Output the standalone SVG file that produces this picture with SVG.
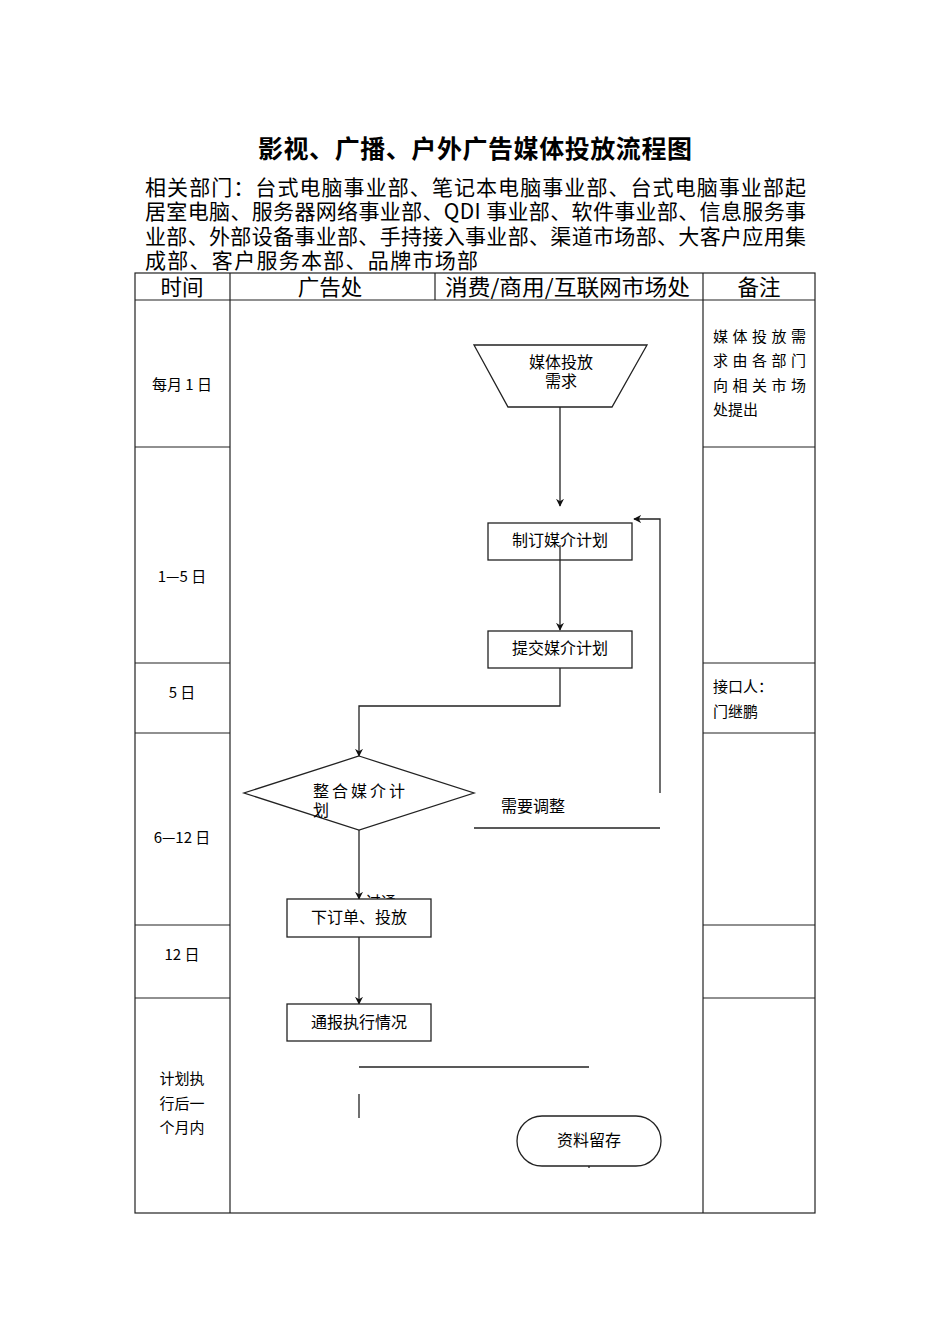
<svg xmlns="http://www.w3.org/2000/svg" width="950" height="1344" viewBox="0 0 950 1344">
<style>
text{font-family:"Noto Sans CJK SC","Liberation Sans",sans-serif;fill:#000}
.tb{stroke:#222;stroke-width:1.2;fill:none}
.ln{stroke:#222;stroke-width:1.3;fill:none}
.box{stroke:#222;stroke-width:1.3;fill:#fff}
.nt{font-size:15px}
.nd{font-size:16px}
.hd{font-size:21.5px}
.intro{font-size:21px}
</style>
<defs>
<marker id="ah" viewBox="0 0 10 10" refX="9" refY="5" markerWidth="8" markerHeight="8" markerUnits="userSpaceOnUse" orient="auto">
<path d="M0,0 L10,5 L0,10 L3,5 z" fill="#111"/>
</marker>
</defs>
<rect width="950" height="1344" fill="#fff"/>
<g id="title">
<text x="258" y="158" font-size="25" font-weight="bold" textLength="434" lengthAdjust="spacing">影视、广播、户外广告媒体投放流程图</text>
<text class="intro" x="145" y="195" textLength="661" lengthAdjust="spacing">相关部门：台式电脑事业部、笔记本电脑事业部、台式电脑事业部起</text>
<text class="intro" x="145" y="219" textLength="661" lengthAdjust="spacing">居室电脑、服务器网络事业部、QDI 事业部、软件事业部、信息服务事</text>
<text class="intro" x="145" y="244" textLength="661" lengthAdjust="spacing">业部、外部设备事业部、手持接入事业部、渠道市场部、大客户应用集</text>
<text class="intro" x="145" y="268" textLength="333" lengthAdjust="spacing">成部、客户服务本部、品牌市场部</text>
</g>
<g id="table">
<rect class="tb" x="135" y="273" width="680" height="940"/>
<line class="tb" x1="135" y1="300" x2="815" y2="300"/>
<line class="tb" x1="230" y1="273" x2="230" y2="1213"/>
<line class="tb" x1="703" y1="273" x2="703" y2="1213"/>
<line class="tb" x1="435" y1="273" x2="435" y2="300"/>
<line class="tb" x1="135" y1="447" x2="230" y2="447"/>
<line class="tb" x1="135" y1="663" x2="230" y2="663"/>
<line class="tb" x1="135" y1="733" x2="230" y2="733"/>
<line class="tb" x1="135" y1="925" x2="230" y2="925"/>
<line class="tb" x1="135" y1="998" x2="230" y2="998"/>
<line class="tb" x1="703" y1="447" x2="815" y2="447"/>
<line class="tb" x1="703" y1="663" x2="815" y2="663"/>
<line class="tb" x1="703" y1="733" x2="815" y2="733"/>
<line class="tb" x1="703" y1="925" x2="815" y2="925"/>
<line class="tb" x1="703" y1="998" x2="815" y2="998"/>
<text class="hd" x="182" y="295" text-anchor="middle">时间</text>
<text class="hd" x="330" y="295" text-anchor="middle">广告处</text>
<text class="hd" x="445" y="295" textLength="245" lengthAdjust="spacingAndGlyphs">消费/商用/互联网市场处</text>
<text class="hd" x="759" y="295" text-anchor="middle">备注</text>
</g>
<g id="time-col">
<text class="nt" x="182" y="390" text-anchor="middle">每月 1 日</text>
<text class="nt" x="182" y="582" text-anchor="middle">1—5 日</text>
<text class="nt" x="182" y="698" text-anchor="middle">5 日</text>
<text class="nt" x="182" y="843" text-anchor="middle">6—12 日</text>
<text class="nt" x="182" y="960" text-anchor="middle">12 日</text>
<text class="nt" x="182" y="1084" text-anchor="middle">计划执</text>
<text class="nt" x="182" y="1109" text-anchor="middle">行后一</text>
<text class="nt" x="182" y="1133" text-anchor="middle">个月内</text>
</g>
<g id="remarks">
<text class="nt" x="713" y="342" textLength="93" lengthAdjust="spacing">媒体投放需</text>
<text class="nt" x="713" y="366" textLength="93" lengthAdjust="spacing">求由各部门</text>
<text class="nt" x="713" y="391" textLength="93" lengthAdjust="spacing">向相关市场</text>
<text class="nt" x="713" y="415">处提出</text>
<text class="nt" x="713" y="692">接口人：</text>
<text class="nt" x="713" y="717">门继鹏</text>
</g>
<g id="connectors">
<line class="ln" x1="560" y1="407" x2="560" y2="506" marker-end="url(#ah)"/>
<polyline class="ln" points="660,793 660,519 634,519" marker-end="url(#ah)"/>
<line class="ln" x1="474" y1="828" x2="660" y2="828"/>
<polyline class="ln" points="560,668 560,706 359,706 359,756" marker-end="url(#ah)"/>
<line class="ln" x1="359" y1="830" x2="359" y2="899" marker-end="url(#ah)"/>
<text class="nt" x="366" y="907">过通</text>
<line class="ln" x1="359" y1="937" x2="359" y2="1004" marker-end="url(#ah)"/>
<line class="ln" x1="359" y1="1067" x2="589" y2="1067"/>
<line class="ln" x1="359" y1="1094" x2="359" y2="1118"/>
<text class="nd" x="501" y="812">需要调整</text>
</g>
<g id="n-demand">
<polygon class="box" points="474,345 647,345 612,407 508,407"/>
<text class="nd" x="561" y="368" text-anchor="middle">媒体投放</text>
<text class="nd" x="561" y="387" text-anchor="middle">需求</text>
</g>
<g id="n-make">
<rect class="box" x="488" y="523" width="144" height="37"/>
<text class="nd" x="560" y="546" text-anchor="middle">制订媒介计划</text>
</g>
<g id="n-submit">
<rect class="box" x="488" y="631" width="144" height="37"/>
<text class="nd" x="560" y="654" text-anchor="middle">提交媒介计划</text>
</g>
<line class="ln" x1="560" y1="545" x2="560" y2="630" marker-end="url(#ah)"/>
<g id="n-integrate">
<polygon class="box" points="359,756 474,793 359,830 244,793"/>
<text class="nd" x="313" y="797" textLength="92" lengthAdjust="spacing">整合媒介计</text>
<text class="nd" x="313" y="816">划</text>
</g>
<g id="n-order">
<rect class="box" x="287" y="899" width="144" height="38"/>
<text class="nd" x="359" y="923" text-anchor="middle">下订单、投放</text>
</g>
<g id="n-report">
<rect class="box" x="287" y="1004" width="144" height="37"/>
<text class="nd" x="359" y="1028" text-anchor="middle">通报执行情况</text>
</g>
<g id="n-archive">
<rect class="box" x="517" y="1116" width="144" height="50" rx="25" ry="25"/>
<text class="nd" x="589" y="1146" text-anchor="middle">资料留存</text>
<line class="ln" x1="589" y1="1166" x2="589" y2="1168"/>
</g>
</svg>
